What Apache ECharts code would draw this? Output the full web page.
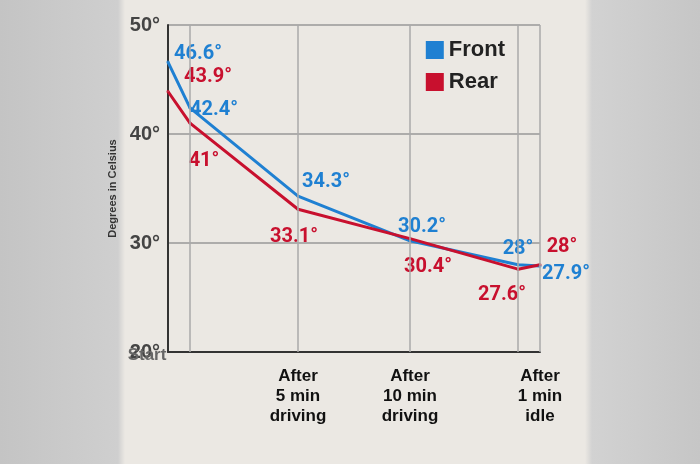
<!DOCTYPE html>
<html><head><meta charset="utf-8">
<script src="https://cdn.jsdelivr.net/npm/echarts@6/dist/echarts.min.js"></script>
<style>
html,body{margin:0;padding:0}
body{background:linear-gradient(to right,#c4c4c4 0,#cfcfcf 118px,#ebe8e3 125px,#ebe8e3 585px,#d2d2d2 592px,#c6c6c6 100%)}
#main{width:700px;height:464px}
</style></head>
<body><div id="main"></div>
<script>
var stages = ['Start', 'After\n1 min\nidle', 'After\n5 min\ndriving', 'After\n10 min\ndriving', 'After\n15 min\ndriving', 'After\n1 min\nidle'];
var stageX = [0, 22, 130, 242, 350, 372];
var front = [46.6, 42.4, 34.3, 30.2, 28, 27.9];
var rear = [43.9, 41, 33.1, 30.4, 27.6, 28];

var blue = '#1f80d2', red = '#c8102e';
var frontOff = [[30, -8], [24, 2], [28, -14], [12, -14], [0, -16], [26, 8]];
var rearOff = [[40, -14], [14, 38], [-4, 28], [18, 28], [-16, 26], [22, -18]];

function pts(vals, offs) {
  return vals.map(function (v, i) {
    return { value: [stageX[i], v], label: { offset: offs[i] } };
  });
}
var lbl = function (c) {
  return { show: true, position: 'inside', color: c, fontSize: 20, fontWeight: 'bold',
    fontFamily: 'Liberation Sans Narrow, Roboto, sans-serif', formatter: function (p) { return p.value[1] + '°'; } };
};

var myChart = echarts.init(document.getElementById('main'));
myChart.setOption({
  animation: false,
  grid: { left: 168, right: 160, top: 25, bottom: 112 },
  legend: {
    right: 190, top: 34, orient: 'vertical', itemWidth: 18, itemHeight: 18, itemGap: 10,
    icon: 'rect', textStyle: { fontSize: 22, fontWeight: 'bold', color: '#222', fontFamily: 'Liberation Sans Narrow, sans-serif' }
  },
  xAxis: {
    type: 'value', min: 0, max: 372,
    axisLine: { show: true, lineStyle: { color: '#333', width: 2 } },
    axisTick: { show: false }, splitLine: { show: false },
    axisLabel: {
      customValues: stageX, showMinLabel: true, showMaxLabel: true, hideOverlap: false,
      margin: 14, fontSize: 17, fontWeight: 'bold', lineHeight: 20,
      fontFamily: 'Liberation Sans Narrow, sans-serif', color: '#111',
      formatter: function (v) { var i = stageX.indexOf(v); return i === 0 ? '{s|Start}' : stages[i]; },
      rich: { s: { color: '#666', fontSize: 17, fontWeight: 'bold', fontFamily: 'Liberation Sans Narrow, sans-serif', padding: [0, 42, 42, 0] } }
    }
  },
  yAxis: {
    type: 'value', min: 20, max: 50, interval: 10,
    name: 'Degrees in Celsius', nameLocation: 'middle', nameGap: 20, nameRotate: 90,
    nameTextStyle: { fontSize: 11, fontWeight: 'bold', color: '#333', fontFamily: 'Liberation Sans Narrow, sans-serif' },
    axisLine: { show: true, lineStyle: { color: '#333', width: 2 } },
    axisTick: { show: false },
    splitLine: { lineStyle: { color: '#999', width: 1.5 } },
    axisLabel: { margin: 8, fontSize: 20, fontWeight: 'bold', color: '#444',
      fontFamily: 'Liberation Sans Narrow, sans-serif', formatter: '{value}°' }
  },
  series: [
    { name: 'Front', type: 'line', data: pts(front, frontOff), showSymbol: true, symbolSize: 1,
      lineStyle: { color: blue, width: 3 }, itemStyle: { color: blue }, label: lbl(blue),
      markLine: { silent: true, symbol: 'none', label: { show: false },
        lineStyle: { color: '#aaa', type: 'solid', width: 1.5 },
        data: stageX.slice(1).map(function (x) { return { xAxis: x }; }) } },
    { name: 'Rear', type: 'line', data: pts(rear, rearOff), showSymbol: true, symbolSize: 1,
      lineStyle: { color: red, width: 3 }, itemStyle: { color: red }, label: lbl(red) }
  ]
});
</script></body></html>
